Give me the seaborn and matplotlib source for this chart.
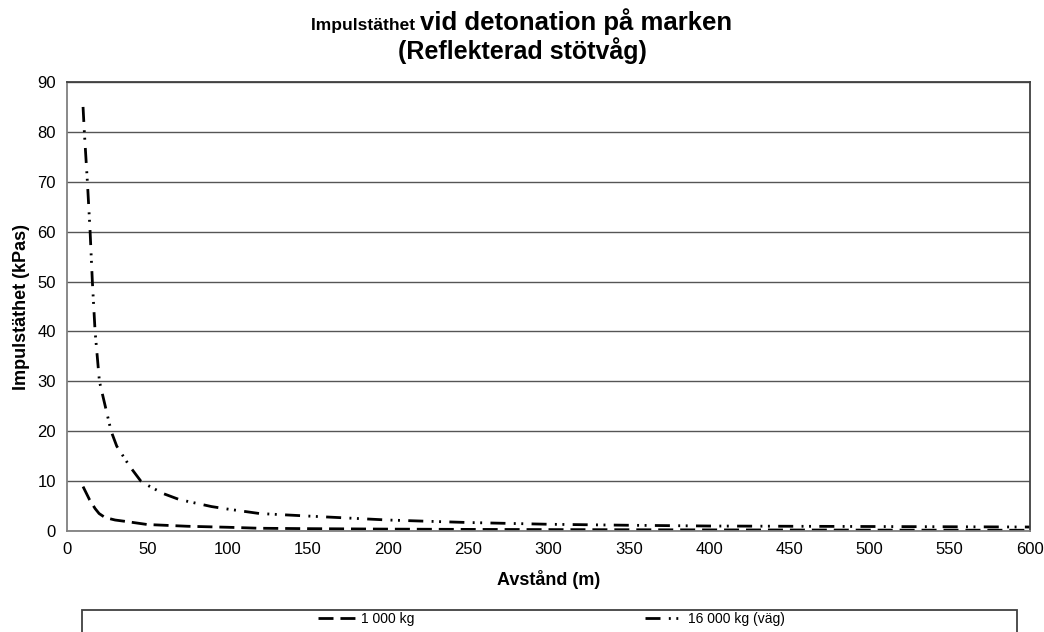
import numpy as np
import pandas as pd
import matplotlib
matplotlib.use('Agg')
import matplotlib.pyplot as plt
import seaborn as sns
from matplotlib.patches import Rectangle

# Data

x_1000 = [10, 14, 17.5, 20, 23.7, 30, 37, 50, 75, 100, 120, 150, 200, 250, 300, 400, 500, 600]
y_1000 = [8.9, 6.3, 4.5, 3.5, 2.7, 2.2, 1.9, 1.3, 0.95, 0.75, 0.55, 0.47, 0.38, 0.32, 0.28, 0.22, 0.18, 0.15]

x_16000 = [10, 10.8, 12.7, 14.4, 15.8, 17.5, 20.2, 27.5, 31, 39, 46, 50, 60, 70, 80, 90, 100,
           120, 150, 200, 250, 300, 350, 400, 450, 500, 550, 600]
y_16000 = [85, 80, 70, 60, 50, 40, 30, 20, 17, 13, 10, 9.2, 7.5, 6.3, 5.6, 4.9, 4.4,
           3.5, 3.0, 2.2, 1.7, 1.35, 1.15, 1.0, 0.95, 0.9, 0.85, 0.8]

labels = ['1 000 kg', '16 000 kg (väg)']

df = pd.concat([
    pd.DataFrame({'x': x_1000, 'y': y_1000, 'serie': labels[0]}),
    pd.DataFrame({'x': x_16000, 'y': y_16000, 'serie': labels[1]}),
])

sns.set_style('white')
plt.rcParams['font.family'] = ['Liberation Sans', 'DejaVu Sans']
plt.rcParams['text.color'] = 'black'
plt.rcParams['axes.labelcolor'] = 'black'

dash_a = (5.4, 2.5)
dash_b = (5.4, 3, 0.7, 2, 0.7, 3)

fig = plt.figure(figsize=(10.44, 6.32), dpi=100)
ax = fig.add_axes([67 / 1044, 1 - 531 / 632, (1030 - 67) / 1044, (531 - 82) / 632])

sns.lineplot(data=df, x='x', y='y', hue='serie', style='serie',
             palette=['black', 'black'], dashes=[dash_a, dash_b],
             linewidth=2, ax=ax, legend=False, sort=False)

ax.set_xlim(0, 600)
ax.set_ylim(0, 90)
ax.set_xticks(range(0, 601, 50))
ax.set_yticks(range(0, 91, 10))
ax.tick_params(axis='both', labelsize=12, direction='out', length=5,
               width=1, color='#808080', labelcolor='black', pad=3)
ax.yaxis.grid(True, color='#555555', linewidth=1)
ax.set_axisbelow(True)

for side in ['top', 'right']:
    ax.spines[side].set_color('#404040')
    ax.spines[side].set_linewidth(1.3)
for side in ['left', 'bottom']:
    ax.spines[side].set_color('#808080')
    ax.spines[side].set_linewidth(1.3)

ax.set_xlabel('Avstånd (m)', fontsize=13, fontweight='bold', labelpad=9)
ax.set_ylabel('Impulstäthet (kPas)', fontsize=13, fontweight='bold', labelpad=5)

# Title: first word smaller than the rest
t0 = fig.text(0.5, 1 - 30 / 632, 'Impulstäthet ', fontsize=12.5, fontweight='bold',
              ha='right', va='baseline')
t1 = fig.text(0.5, 1 - 30 / 632, 'vid detonation på marken', fontsize=18.5,
              fontweight='bold', ha='left', va='baseline')
fig.text(0.5, 1 - 59 / 632, '(Reflekterad stötvåg)', fontsize=18,
         fontweight='bold', ha='center', va='baseline')

# centre the first title line as a whole
fig.canvas.draw()
r = fig.canvas.get_renderer()
w0 = t0.get_window_extent(r).width
w1 = t1.get_window_extent(r).width
shift = (w0 - w1) / 2 / fig.bbox.width
t0.set_x(0.5 + shift)
t1.set_x(0.5 + shift)

# Legend box (runs past the bottom edge as in the reference)
fig.patches.append(Rectangle((82 / 1044, -0.05), (1017 - 82) / 1044, 0.05 + 22 / 632,
                             transform=fig.transFigure, fill=False,
                             edgecolor='#404040', linewidth=1.3))
handles = [plt.Line2D([], [], color='black', linewidth=2, dashes=d)
           for d in [dash_a, dash_b]]
fig.legend(handles, labels, loc='center', bbox_to_anchor=(551 / 1044, 1 - 619 / 632),
           ncol=2, frameon=False, fontsize=10, handlelength=2.8, handletextpad=0.3,
           columnspacing=16.6, borderpad=0)

fig.savefig('out.png', dpi=100)
